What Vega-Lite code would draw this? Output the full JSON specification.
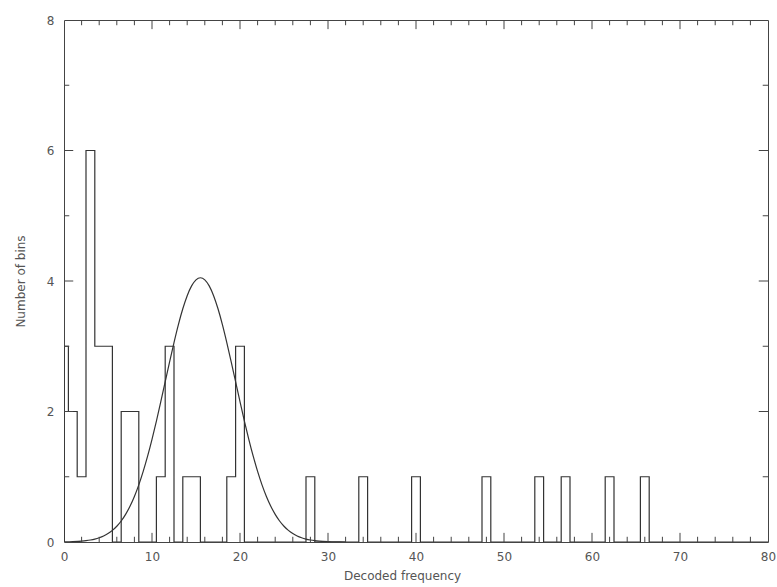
{
  "$schema": "https://vega.github.io/schema/vega-lite/v6.json",
  "autosize": "none",
  "width": 704,
  "height": 522,
  "padding": {"left": 64, "top": 20, "right": 9, "bottom": 45},
  "background": "white",
  "config": {
    "view": {"stroke": "#444", "strokeWidth": 1},
    "axis": {"domain": false, "grid": false, "ticks": false, "labelFont": "DejaVu Sans", "labelFontSize": 12, "labelColor": "#555", "titleFont": "DejaVu Sans", "titleFontSize": 12, "titleFontWeight": "normal", "titleColor": "#555"}
  },
  "datasets": {
    "hist": [
      {"edge": 0, "count": 0}, {"edge": 0, "count": 3}, {"edge": 0.5, "count": 2}, {"edge": 1.5, "count": 1},
      {"edge": 2.5, "count": 6}, {"edge": 3.5, "count": 3}, {"edge": 5.5, "count": 0}, {"edge": 6.5, "count": 2},
      {"edge": 8.5, "count": 0}, {"edge": 10.5, "count": 1}, {"edge": 11.5, "count": 3}, {"edge": 12.5, "count": 0},
      {"edge": 13.5, "count": 1}, {"edge": 15.5, "count": 0}, {"edge": 18.5, "count": 1}, {"edge": 19.5, "count": 3},
      {"edge": 20.5, "count": 0}, {"edge": 27.5, "count": 1}, {"edge": 28.5, "count": 0}, {"edge": 33.5, "count": 1},
      {"edge": 34.5, "count": 0}, {"edge": 39.5, "count": 1}, {"edge": 40.5, "count": 0}, {"edge": 47.5, "count": 1},
      {"edge": 48.5, "count": 0}, {"edge": 53.5, "count": 1}, {"edge": 54.5, "count": 0}, {"edge": 56.5, "count": 1},
      {"edge": 57.5, "count": 0}, {"edge": 61.5, "count": 1}, {"edge": 62.5, "count": 0}, {"edge": 65.5, "count": 1},
      {"edge": 66.5, "count": 0}, {"edge": 80, "count": 0}
    ],
    "fit": [
      {"f": 0, "n": 0.002}, {"f": 1, "n": 0.006}, {"f": 2, "n": 0.014}, {"f": 2.5, "n": 0.021},
      {"f": 3, "n": 0.031}, {"f": 3.5, "n": 0.045}, {"f": 4, "n": 0.065}, {"f": 4.5, "n": 0.092},
      {"f": 5, "n": 0.129}, {"f": 5.5, "n": 0.178}, {"f": 6, "n": 0.241}, {"f": 6.5, "n": 0.322},
      {"f": 7, "n": 0.424}, {"f": 7.5, "n": 0.548}, {"f": 8, "n": 0.698}, {"f": 8.5, "n": 0.876},
      {"f": 9, "n": 1.082}, {"f": 9.5, "n": 1.315}, {"f": 10, "n": 1.574}, {"f": 10.5, "n": 1.854},
      {"f": 11, "n": 2.151}, {"f": 11.5, "n": 2.456}, {"f": 12, "n": 2.762}, {"f": 12.5, "n": 3.057},
      {"f": 13, "n": 3.332}, {"f": 13.5, "n": 3.574}, {"f": 14, "n": 3.775}, {"f": 14.5, "n": 3.925},
      {"f": 15, "n": 4.018}, {"f": 15.5, "n": 4.05}, {"f": 16, "n": 4.018}, {"f": 16.5, "n": 3.925},
      {"f": 17, "n": 3.775}, {"f": 17.5, "n": 3.574}, {"f": 18, "n": 3.332}, {"f": 18.5, "n": 3.057},
      {"f": 19, "n": 2.762}, {"f": 19.5, "n": 2.456}, {"f": 20, "n": 2.151}, {"f": 20.5, "n": 1.854},
      {"f": 21, "n": 1.574}, {"f": 21.5, "n": 1.315}, {"f": 22, "n": 1.082}, {"f": 22.5, "n": 0.876},
      {"f": 23, "n": 0.698}, {"f": 23.5, "n": 0.548}, {"f": 24, "n": 0.424}, {"f": 24.5, "n": 0.322},
      {"f": 25, "n": 0.241}, {"f": 25.5, "n": 0.178}, {"f": 26, "n": 0.129}, {"f": 26.5, "n": 0.092},
      {"f": 27, "n": 0.065}, {"f": 27.5, "n": 0.045}, {"f": 28, "n": 0.031}, {"f": 28.5, "n": 0.021},
      {"f": 29, "n": 0.014}, {"f": 30, "n": 0.006}, {"f": 31, "n": 0.002}, {"f": 32, "n": 0.0}
    ],
    "xmajor": [{"v": 10}, {"v": 20}, {"v": 30}, {"v": 40}, {"v": 50}, {"v": 60}, {"v": 70}],
    "xminor": [{"v": 2}, {"v": 4}, {"v": 6}, {"v": 8}, {"v": 12}, {"v": 14}, {"v": 16}, {"v": 18}, {"v": 22}, {"v": 24}, {"v": 26}, {"v": 28}, {"v": 32}, {"v": 34}, {"v": 36}, {"v": 38}, {"v": 42}, {"v": 44}, {"v": 46}, {"v": 48}, {"v": 52}, {"v": 54}, {"v": 56}, {"v": 58}, {"v": 62}, {"v": 64}, {"v": 66}, {"v": 68}, {"v": 72}, {"v": 74}, {"v": 76}, {"v": 78}],
    "ymajor": [{"v": 2}, {"v": 4}, {"v": 6}],
    "yminor": [{"v": 1}, {"v": 3}, {"v": 5}, {"v": 7}]
  },
  "layer": [
    {
      "data": {"name": "hist"},
      "mark": {"type": "line", "interpolate": "step-after", "color": "#333", "strokeWidth": 1.2, "clip": true},
      "encoding": {
        "x": {"field": "edge", "type": "quantitative", "scale": {"domain": [0, 80], "nice": false, "zero": false},
          "axis": {"orient": "bottom", "title": "Decoded frequency", "titlePadding": 8, "titleX": 338, "format": "d",
            "values": [0,10,20,30,40,50,60,70,80], "labelPadding": 9, "labelFlush": false}},
        "y": {"field": "count", "type": "quantitative", "scale": {"domain": [0, 8], "nice": false},
          "axis": {"orient": "left", "title": "Number of bins", "titlePadding": 19, "format": "d",
            "values": [0,2,4,6,8], "labelPadding": 10, "labelAngle": 0}}
      }
    },
    {
      "data": {"name": "fit"},
      "mark": {"type": "line", "interpolate": "monotone", "color": "#333", "strokeWidth": 1.2, "clip": true},
      "encoding": {
        "x": {"field": "f", "type": "quantitative"},
        "y": {"field": "n", "type": "quantitative"}
      }
    },
    {
      "data": {"name": "xmajor"},
      "mark": {"type": "rule", "color": "#444", "strokeWidth": 1},
      "encoding": {"x": {"field": "v", "type": "quantitative"}, "y": {"datum": 0}, "y2": {"datum": 0.14}}
    },
    {
      "data": {"name": "xmajor"},
      "mark": {"type": "rule", "color": "#444", "strokeWidth": 1},
      "encoding": {"x": {"field": "v", "type": "quantitative"}, "y": {"datum": 7.86}, "y2": {"datum": 8}}
    },
    {
      "data": {"name": "xminor"},
      "mark": {"type": "rule", "color": "#444", "strokeWidth": 1},
      "encoding": {"x": {"field": "v", "type": "quantitative"}, "y": {"datum": 0}, "y2": {"datum": 0.08}}
    },
    {
      "data": {"name": "xminor"},
      "mark": {"type": "rule", "color": "#444", "strokeWidth": 1},
      "encoding": {"x": {"field": "v", "type": "quantitative"}, "y": {"datum": 7.92}, "y2": {"datum": 8}}
    },
    {
      "data": {"name": "ymajor"},
      "mark": {"type": "rule", "color": "#444", "strokeWidth": 1},
      "encoding": {"y": {"field": "v", "type": "quantitative"}, "x": {"datum": 0}, "x2": {"datum": 1.05}}
    },
    {
      "data": {"name": "ymajor"},
      "mark": {"type": "rule", "color": "#444", "strokeWidth": 1},
      "encoding": {"y": {"field": "v", "type": "quantitative"}, "x": {"datum": 78.95}, "x2": {"datum": 80}}
    },
    {
      "data": {"name": "yminor"},
      "mark": {"type": "rule", "color": "#444", "strokeWidth": 1},
      "encoding": {"y": {"field": "v", "type": "quantitative"}, "x": {"datum": 0}, "x2": {"datum": 0.6}}
    },
    {
      "data": {"name": "yminor"},
      "mark": {"type": "rule", "color": "#444", "strokeWidth": 1},
      "encoding": {"y": {"field": "v", "type": "quantitative"}, "x": {"datum": 79.4}, "x2": {"datum": 80}}
    }
  ]
}
